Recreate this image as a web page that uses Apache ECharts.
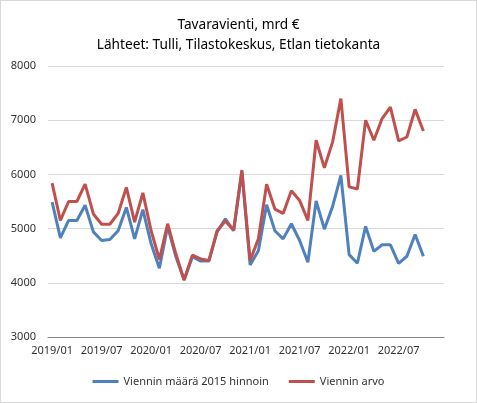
<!DOCTYPE html>
<html>
<head>
<meta charset="utf-8">
<script src="https://cdn.jsdelivr.net/npm/echarts@6/dist/echarts.min.js"></script>
<style>
  html, body { margin: 0; padding: 0; background: #fff; }
  #main { width: 477px; height: 403px; box-sizing: border-box; border: 1px solid #d9d9d9; }
</style>
</head>
<body>
<div id="main"></div>
<script>
var months = [
  '2019/01', '2019/02', '2019/03', '2019/04', '2019/05', '2019/06', '2019/07', '2019/08', '2019/09', '2019/10', '2019/11', '2019/12',
  '2020/01', '2020/02', '2020/03', '2020/04', '2020/05', '2020/06', '2020/07', '2020/08', '2020/09', '2020/10', '2020/11', '2020/12',
  '2021/01', '2021/02', '2021/03', '2021/04', '2021/05', '2021/06', '2021/07', '2021/08', '2021/09', '2021/10', '2021/11', '2021/12',
  '2022/01', '2022/02', '2022/03', '2022/04', '2022/05', '2022/06', '2022/07', '2022/08', '2022/09', '2022/10', '2022/11', '2022/12'
];

// viennin määrä 2015 hinnoin, milj. €
var volume = [
  5490, 4830, 5150, 5150, 5430, 4940, 4780, 4800, 4960, 5390, 4810, 5350,
  4720, 4270, 5040, 4480, 4050, 4480, 4400, 4400, 4940, 5180, 4960, 6050,
  4330, 4590, 5440, 4960, 4810, 5090, 4780, 4380, 5510, 4990, 5410, 5980,
  4520, 4360, 5040, 4580, 4700, 4700, 4360, 4490, 4890, 4490
];

// viennin arvo, milj. €
var value = [
  5840, 5150, 5500, 5500, 5820, 5270, 5080, 5080, 5280, 5760, 5120, 5660,
  4960, 4430, 5090, 4530, 4050, 4510, 4440, 4410, 4960, 5140, 4970, 6080,
  4410, 4810, 5820, 5360, 5280, 5700, 5520, 5150, 6630, 6120, 6600, 7400,
  5770, 5730, 7000, 6630, 7030, 7240, 6620, 6690, 7200, 6800
];

var seriesNames = ['Viennin määrä 2015 hinnoin', 'Viennin arvo'];

var chartDom = document.getElementById('main');
var myChart = echarts.init(chartDom);
var option;
option = {
  animation: false,
  textStyle: { fontFamily: 'Noto Sans' },
  color: ['#4f81bd', '#c0504d'],
  title: {
    text: 'Tavaravienti, mrd €\nLähteet: Tulli, Tilastokeskus, Etlan tietokanta',
    left: 'center',
    top: 9,
    textStyle: {
      fontFamily: 'Noto Sans',
      fontSize: 13.7,
      fontWeight: 'normal',
      color: '#000',
      lineHeight: 20
    }
  },
  legend: {
    data: seriesNames,
    bottom: 10,
    left: 'center',
    icon: 'rect',
    itemWidth: 26,
    itemHeight: 3,
    itemGap: 20,
    textStyle: { fontFamily: 'Noto Sans', fontSize: 11, color: '#333' }
  },
  grid: {
    left: 47,
    right: 32,
    top: 65,
    bottom: 65,
    containLabel: false
  },
  xAxis: {
    type: 'category',
    boundaryGap: true,
    data: months,
    axisLine: { lineStyle: { color: '#868686', width: 1 } },
    axisTick: { interval: 5, length: 5, lineStyle: { color: '#868686' } },
    axisLabel: {
      interval: 5,
      fontFamily: 'Noto Sans',
      fontSize: 11,
      color: '#333',
      margin: 8
    },
    splitLine: { show: false }
  },
  yAxis: {
    type: 'value',
    min: 3000,
    max: 8000,
    interval: 1000,
    axisLine: { show: false },
    axisTick: { show: false },
    axisLabel: {
      fontFamily: 'Noto Sans',
      fontSize: 11,
      color: '#333',
      margin: 12,
      formatter: function (v) { return String(v); }
    },
    splitLine: { lineStyle: { color: '#d9d9d9', width: 1 } }
  },
  series: [
    {
      name: seriesNames[0],
      type: 'line',
      data: volume,
      symbol: 'none',
      z: 2,
      lineStyle: { width: 3 }
    },
    {
      name: seriesNames[1],
      type: 'line',
      data: value,
      symbol: 'none',
      z: 3,
      lineStyle: { width: 3 }
    }
  ]
};

option && myChart.setOption(option);
</script>
</body>
</html>
